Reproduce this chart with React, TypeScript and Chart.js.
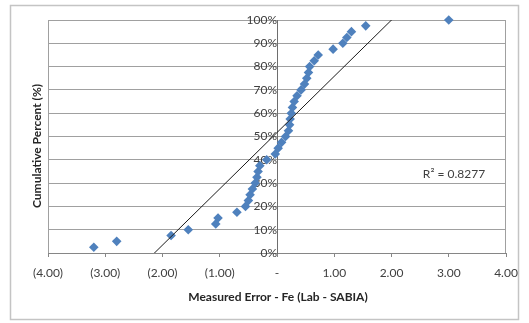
import React, { useEffect, useRef } from "react";
import { Chart, registerables } from "chart.js";

Chart.register(...registerables);

// Measured error (Lab - SABIA) for Fe, sorted
const errorValues = [
  -3.2, -2.8, -1.85, -1.55, -1.07, -1.03, -0.7, -0.55, -0.5, -0.47,
  -0.43, -0.38, -0.35, -0.33, -0.3, -0.18, -0.03, 0.02, 0.08, 0.15,
  0.2, 0.22, 0.23, 0.25, 0.27, 0.3, 0.35, 0.42, 0.48, 0.52,
  0.55, 0.57, 0.65, 0.72, 0.98, 1.15, 1.22, 1.3, 1.55, 3.0,
];
// Cumulative percent (%)
const cumulativePercent = [
  2.5, 5, 7.5, 10, 12.5, 15, 17.5, 20, 22.5, 25,
  27.5, 30, 32.5, 35, 37.5, 40, 42.5, 45, 47.5, 50,
  52.5, 55, 57.5, 60, 62.5, 65, 67.5, 70, 72.5, 75,
  77.5, 80, 82.5, 85, 87.5, 90, 92.5, 95, 97.5, 100,
];
// Linear trendline
const trendSlope = 24.15;
const trendIntercept = 51.7;
const rSquaredLabel = "R\u00B2 = 0.8277";
const xAxisTitle = "Measured Error - Fe (Lab - SABIA)";
const yAxisTitle = "Cumulative Percent (%)";

const FONT = "Lato, 'Open Sans', sans-serif";

function fmtX(v: number): string {
  if (Math.abs(v) < 1e-9) return "-";
  if (v < 0) return "(" + Math.abs(v).toFixed(2) + ")";
  return v.toFixed(2);
}

export default function App() {
  const ref = useRef<HTMLCanvasElement | null>(null);

  useEffect(() => {
    if (!ref.current) return;
    const xs = errorValues;
    const xMin = Math.min(...xs);
    const xMax = Math.max(...xs);
    const trendData = [
      { x: xMin, y: trendSlope * xMin + trendIntercept },
      { x: xMax, y: trendSlope * xMax + trendIntercept },
    ];
    const points = errorValues.map((x, i) => ({ x, y: cumulativePercent[i] }));

    const decor = {
      id: "decor",
      beforeDraw(chart: any) {
        const ctx = chart.ctx;
        ctx.save();
        ctx.fillStyle = "#ffffff";
        ctx.fillRect(0, 0, chart.width, chart.height);
        ctx.strokeStyle = "#c4c4c4";
        ctx.lineWidth = 1.5;
        ctx.strokeRect(10.5, 5.5, 508, 314);
        ctx.restore();
      },
      beforeDatasetsDraw(chart: any) {
        const ctx = chart.ctx;
        const a = chart.chartArea;
        ctx.save();
        ctx.strokeStyle = "#a0a0a0";
        ctx.lineWidth = 1;
        ctx.beginPath();
        ctx.moveTo(Math.round(a.left) + 0.5, a.top);
        ctx.lineTo(Math.round(a.left) + 0.5, a.bottom);
        ctx.moveTo(Math.round(a.right) - 0.5, a.top);
        ctx.lineTo(Math.round(a.right) - 0.5, a.bottom);
        ctx.stroke();
        ctx.restore();
      },
      afterDatasetsDraw(chart: any) {
        const ctx = chart.ctx;
        ctx.save();
        // R² label
        ctx.fillStyle = "#404040";
        ctx.font = "12px " + FONT;
        ctx.textAlign = "center";
        ctx.textBaseline = "middle";
        ctx.fillText(rSquaredLabel, 454, 174);
        // axis titles
        ctx.fillStyle = "#262626";
        ctx.font = "bold 12px " + FONT;
        ctx.fillText(xAxisTitle, 278, 297);
        ctx.translate(37, 146);
        ctx.rotate(-Math.PI / 2);
        ctx.fillText(yAxisTitle, 0, 0);
        ctx.restore();
      },
    };

    const chart = new Chart(ref.current, {
      type: "scatter",
      data: {
        datasets: [
          {
            label: "Fe",
            data: points,
            pointStyle: "rectRot",
            pointRadius: 4.8,
            pointHoverRadius: 4.8,
            backgroundColor: "#4f81bd",
            borderColor: "#4f81bd",
            borderWidth: 0,
            showLine: false,
            clip: false as any,
            order: 1,
          },
          {
            label: "Trend",
            data: trendData,
            showLine: true,
            borderColor: "#1a1a1a",
            borderWidth: 1,
            pointRadius: 0,
            fill: false,
            order: 0,
          },
        ],
      },
      options: {
        animation: false,
        responsive: false,
        devicePixelRatio: 1,
        layout: { padding: { left: 48, right: 23, top: 20, bottom: 40 } },
        plugins: {
          legend: { display: false },
          tooltip: { enabled: false },
        },
        scales: {
          x: {
            type: "linear",
            min: -4,
            max: 4,
            ticks: {
              stepSize: 1,
              padding: 9,
              color: "#404040",
              font: { family: FONT, size: 12 },
              maxRotation: 0,
              callback: (v: any) => fmtX(Number(v)),
            },
            grid: {
              drawOnChartArea: false,
              drawTicks: true,
              tickLength: 4,
              color: "#868686",
            },
            border: { color: "#868686", width: 1 },
            afterFit: (s: any) => {
              s.height = 30;
            },
          },
          y: {
            type: "linear",
            min: 0,
            max: 100,
            position: { x: 0 } as any,
            ticks: {
              stepSize: 10,
              padding: 3,
              color: "#404040",
              font: { family: FONT, size: 12 },
              callback: (v: any) => v + "%",
            },
            grid: {
              color: "#a0a0a0",
              lineWidth: 1,
              drawTicks: true,
              tickLength: 4,
            },
            border: { color: "#6e6e6e", width: 1 },
          },
        },
      },
      plugins: [decor],
    });
    return () => chart.destroy();
  }, []);

  return (
    <div style={{ position: "fixed", left: 0, top: 0, width: 529, height: 323, background: "#fff" }}>
      <canvas ref={ref} width={529} height={323} style={{ display: "block" }} />
    </div>
  );
}
